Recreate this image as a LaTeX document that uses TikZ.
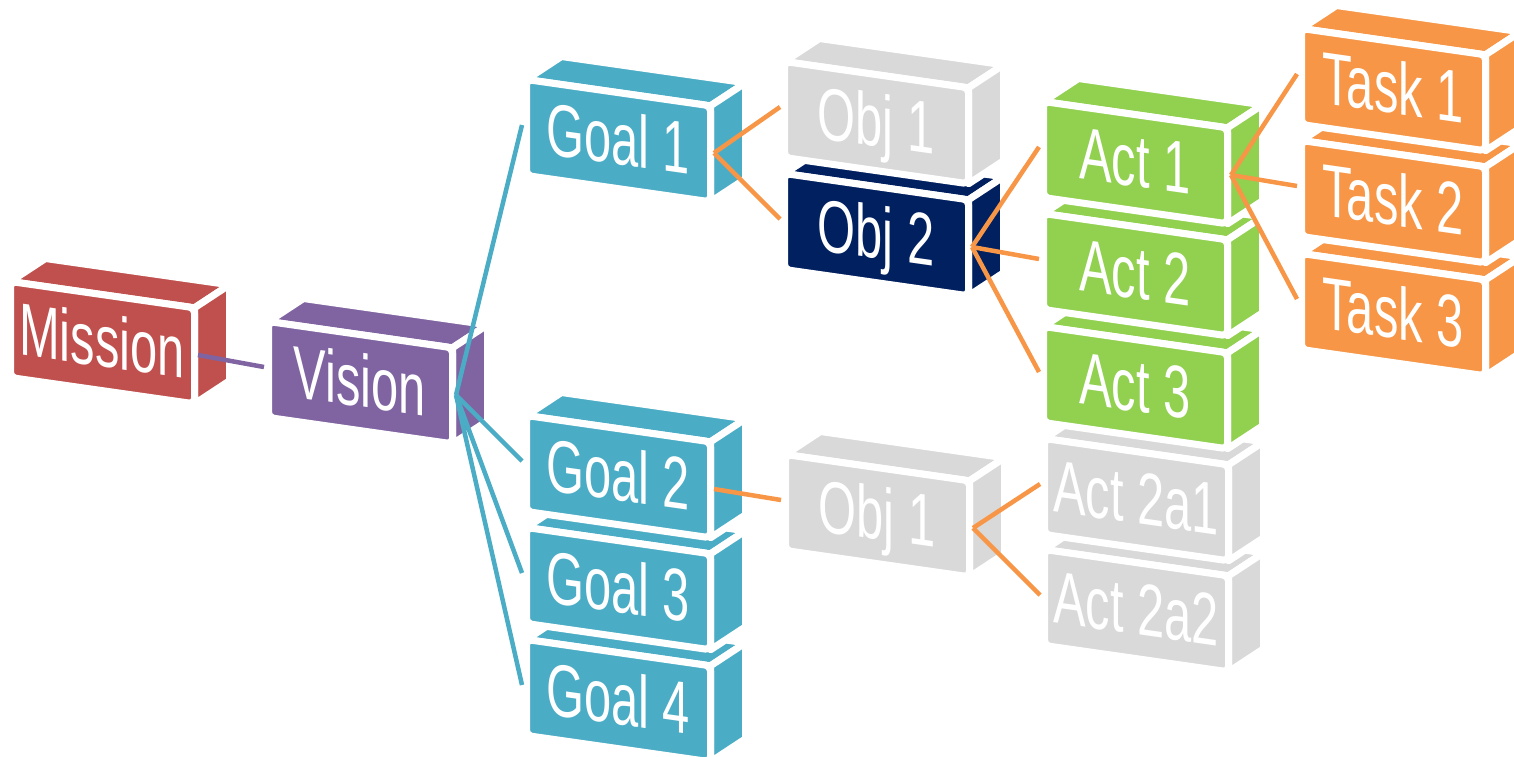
\documentclass[tikz,border=0pt]{standalone}
\usepackage{fontspec}
\setmainfont{Liberation Sans}
\definecolor{cmission}{HTML}{C0504D}
\definecolor{cvision}{HTML}{8064A2}
\definecolor{cgoal}{HTML}{4BACC6}
\definecolor{cgray}{HTML}{D9D9D9}
\definecolor{cnavy}{HTML}{002060}
\definecolor{cact}{HTML}{92D050}
\definecolor{ctask}{HTML}{F79646}
\tikzset{
  face/.style={draw=white, line width=7pt, line join=round},
  lbl/.style={text=white, font=\fontsize{74}{74}\selectfont, inner sep=0pt,
    text height=53pt, text depth=0pt, yslant=-0.143, xscale=0.66},
  link/.style={line width=4.5pt},
}
\newcommand\cubebox[5]{%
  \begin{scope}[shift={(#2,#3)}]
    \path[fill=#4, face] (-3.5,-3.5) -- (180.5,22.8) -- (215.5,-0.2) -- (31.5,-26.5) -- cycle;
    \path[fill=#4, face] (180.5,22.8) -- (180.5,118.8) -- (215.5,95.8) -- (215.5,-0.2) -- cycle;
    \path[fill=#4, face, rounded corners=5pt] (-3.5,-3.5) -- (180.5,22.8) -- (180.5,118.8) -- (-3.5,92.5) -- cycle;
    \coordinate (#1-c) at (88,55);
    \coordinate (#1-o) at (184,70);
    \coordinate (#1-i) at (-8,42);
    \path (#1-c) node[lbl] (#1) {#5};
  \end{scope}}
\begin{document}
\begin{tikzpicture}[x=1pt, y=-1pt]
\useasboundingbox (0,0) rectangle (1514,756);
\clip (0,0) rectangle (1514,756);
\cubebox{mission}{14}{285}{cmission}{Mission}
\cubebox{vision}{272}{325}{cvision}{Vision}
\cubebox{goal1}{530}{83}{cgoal}{Goal 1}
\cubebox{goal4}{530}{643}{cgoal}{Goal 4}
\cubebox{goal3}{530}{531}{cgoal}{Goal 3}
\cubebox{goal2}{530}{419}{cgoal}{Goal 2}
\cubebox{objb}{788}{177}{cnavy}{Obj 2}
\cubebox{obja}{788}{65}{cgray}{Obj 1}
\cubebox{objc}{789}{458}{cgray}{Obj 1}
\cubebox{acte}{1048}{553}{cgray}{Act 2a2}
\cubebox{actd}{1048}{442}{cgray}{Act 2a1}
\cubebox{actc}{1047}{330}{cact}{Act 3}
\cubebox{actb}{1047}{217}{cact}{Act 2}
\cubebox{acta}{1047}{105}{cact}{Act 1}
\cubebox{taskc}{1305}{257}{ctask}{Task 3}
\cubebox{taskb}{1305}{144}{ctask}{Task 2}
\cubebox{taska}{1305}{32}{ctask}{Task 1}
% connectors
\draw[link, cvision] (mission-o) -- (vision-i);
\draw[link, cgoal] (vision-o) -- (goal1-i);
\draw[link, cgoal] (vision-o) -- (goal2-i);
\draw[link, cgoal] (vision-o) -- (goal3-i);
\draw[link, cgoal] (vision-o) -- (goal4-i);
\draw[link, ctask] (goal1-o) -- (obja-i);
\draw[link, ctask] (goal1-o) -- (objb-i);
\draw[link, ctask] (objb-o) -- (acta-i);
\draw[link, ctask] (objb-o) -- (actb-i);
\draw[link, ctask] (objb-o) -- (actc-i);
\draw[link, ctask] (acta-o) -- (taska-i);
\draw[link, ctask] (acta-o) -- (taskb-i);
\draw[link, ctask] (acta-o) -- (taskc-i);
\draw[link, ctask] (goal2-o) -- (objc-i);
\draw[link, ctask] (objc-o) -- (actd-i);
\draw[link, ctask] (objc-o) -- (acte-i);
\end{tikzpicture}
\end{document}
